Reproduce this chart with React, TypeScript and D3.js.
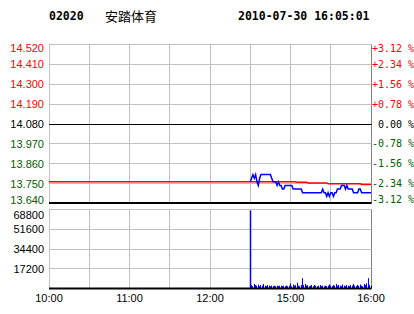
import React from 'react';
import * as d3 from 'd3';

const stockCode = '02020';
const stockName = '安踏体育';
const timeStamp = '2010-07-30 16:05:01';

const priceTicks = [14.52, 14.41, 14.3, 14.19, 14.08, 13.97, 13.86, 13.75, 13.64];
const pctLabels = ['+3.12 %', '+2.34 %', '+1.56 %', '+0.78 %', ' 0.00 %', '-0.78 %', '-1.56 %', '-2.34 %', '-3.12 %'];
const prevClose = 14.08;
const volTicks = [68800, 51600, 34400, 17200];
const gridMinutes = [0, 30, 60, 90, 120, 150, 180, 210, 240];
const labelMinutes = [0, 60, 120, 180, 240];
const labelTexts = ['10:00', '11:00', '12:00', '15:00', '16:00'];
const afternoonStart = 150;

const prices = [
  13.76, 13.78, 13.8, 13.78, 13.8, 13.76, 13.74, 13.78, 13.8, 13.8,
  13.8, 13.8, 13.8, 13.8, 13.8, 13.8, 13.78, 13.76, 13.76, 13.76,
  13.74, 13.76, 13.74, 13.74, 13.72, 13.72, 13.74, 13.74, 13.74, 13.74,
  13.74, 13.74, 13.72, 13.72, 13.72, 13.72, 13.72, 13.72, 13.72, 13.7,
  13.7, 13.7, 13.7, 13.7, 13.7, 13.7, 13.7, 13.7, 13.7, 13.7,
  13.7, 13.7, 13.7, 13.7, 13.72, 13.7, 13.7, 13.68, 13.7, 13.68,
  13.7, 13.7, 13.68, 13.7, 13.7, 13.72, 13.72, 13.72, 13.74, 13.74,
  13.74, 13.72, 13.74, 13.72, 13.72, 13.72, 13.72, 13.7, 13.7, 13.7,
  13.7, 13.72, 13.72, 13.7, 13.7, 13.7, 13.7, 13.7, 13.7, 13.7,
  13.7,
];

const avgPrices = [
  13.76, 13.76, 13.76, 13.76, 13.76, 13.76, 13.76, 13.76, 13.76, 13.76,
  13.76, 13.76, 13.76, 13.76, 13.76, 13.76, 13.76, 13.76, 13.76, 13.76,
  13.76, 13.76, 13.76, 13.76, 13.76, 13.76, 13.76, 13.76, 13.76, 13.76,
  13.76, 13.76, 13.76, 13.76, 13.76, 13.757, 13.757, 13.757, 13.757, 13.757,
  13.757, 13.757, 13.757, 13.754, 13.754, 13.754, 13.754, 13.754, 13.754, 13.754,
  13.754, 13.754, 13.754, 13.754, 13.754, 13.754, 13.754, 13.754, 13.749, 13.749,
  13.749, 13.749, 13.749, 13.749, 13.749, 13.749, 13.749, 13.749, 13.749, 13.749,
  13.749, 13.749, 13.749, 13.749, 13.749, 13.749, 13.749, 13.749, 13.749, 13.749,
  13.749, 13.749, 13.749, 13.745, 13.745, 13.745, 13.745, 13.745, 13.745, 13.745,
  13.745,
];

const volumes = [
  68000, 3000, 2000, 4000, 3000, 2500, 3500, 2000, 3000, 2500,
  4000, 2500, 2000, 3000, 2500, 2000, 2500, 2000, 2500, 2000,
  2500, 2000, 2500, 2500, 2000, 2500, 2000, 2500, 2000, 2500,
  4500, 2000, 3500, 2500, 3000, 5000, 2500, 2000, 3000, 9000,
  3000, 4000, 2500, 3000, 2000, 2500, 3000, 2000, 3000, 2500,
  2000, 2500, 3000, 2000, 2500, 2000, 2500, 2000, 2500, 3500,
  2500, 2000, 3000, 2500, 4000, 2500, 3000, 2500, 2000, 3500,
  2500, 2000, 3000, 2500, 2000, 3000, 2500, 4000, 2500, 2000,
  3000, 2500, 3500, 2500, 2000, 4000, 3000, 4500, 9000, 3000,
  2500,
];

const W = 414;
const H = 314;
const left = 49;
const right = 371;
const pTop = 44.5;
const pBottom = 203.5;
const vTop = 209.5;
const vBottom = 288.5;

const gridColor = '#c0c0c0';
const upColor = '#ff0000';
const downColor = '#006000';
const sansFont = '"Liberation Sans", Arial, sans-serif';
const monoFont = '"DejaVu Sans Mono", "Liberation Mono", monospace';

const crisp = (v: number) => Math.round(v - 0.5) + 0.5;

export default function App() {
  const x = d3.scaleLinear().domain([0, 240]).range([left, right]);
  const y = d3.scaleLinear().domain([13.64, 14.52]).range([pBottom, pTop]);
  const yv = d3.scaleLinear().domain([0, 68800]).range([vBottom, vTop]);

  const priceLine = d3
    .line<number>()
    .x((_, i) => x(afternoonStart + i))
    .y((d) => y(d));

  const avgPoints: [number, number][] = [
    [0, avgPrices[0]],
    ...avgPrices.map((d, i) => [afternoonStart + i, d] as [number, number]),
  ];
  const avgLine = d3
    .line<[number, number]>()
    .x((d) => x(d[0]))
    .y((d) => y(d[1]));

  const colorFor = (v: number) =>
    Math.abs(v - prevClose) < 1e-6 ? '#000000' : v > prevClose ? upColor : downColor;

  const clampY = (v: number, lo: number, hi: number) => Math.max(lo, Math.min(hi, v));

  return (
    <svg
      width={W}
      height={H}
      style={{ position: 'absolute', left: 0, top: 0, background: '#fff' }}
    >
      <rect x={0} y={0} width={W} height={H} fill="#fff" />
      {/* header */}
      <text x={49} y={20} fontFamily={monoFont} fontWeight="bold" fontSize={11.5} fill="#000">
        {stockCode}
      </text>
      <text x={105} y={20.5} fontFamily='"Noto Sans CJK SC", sans-serif' fontSize={13} fill="#000">
        {stockName}
      </text>
      <text x={238} y={20} fontFamily={monoFont} fontWeight="bold" fontSize={11.5} fill="#000">
        {timeStamp}
      </text>

      {/* price panel grid */}
      {gridMinutes.map((m) => (
        <line
          key={'pv' + m}
          x1={crisp(x(m))}
          x2={crisp(x(m))}
          y1={pTop}
          y2={pBottom}
          stroke={m === 240 ? '#808080' : gridColor}
          strokeWidth={1}
        />
      ))}
      {priceTicks.map((v, i) => {
        const yy = crisp(y(v));
        const isZero = Math.abs(v - prevClose) < 1e-6;
        const isBottom = i === priceTicks.length - 1;
        return (
          <line
            key={'ph' + v}
            x1={left}
            x2={right + 0.5}
            y1={isBottom ? yy - 0.5 : yy}
            y2={isBottom ? yy - 0.5 : yy}
            stroke={isZero || isBottom ? '#000' : gridColor}
            strokeWidth={isBottom ? 2 : 1}
          />
        );
      })}
      {priceTicks.map((v, i) => {
        const yy = clampY(y(v), pTop + 3.5, pBottom - 4);
        return (
          <g key={'pl' + v}>
            <text
              x={44}
              y={yy}
              textAnchor="end"
              dominantBaseline="central"
              fontFamily={sansFont}
              fontSize={11}
              fill={colorFor(v)}
            >
              {v.toFixed(3)}
            </text>
            <text
              x={372}
              y={yy}
              dominantBaseline="central"
              fontFamily={monoFont}
              fontSize={10}
              fill={colorFor(v)}
              style={{ whiteSpace: 'pre' }}
            >
              {pctLabels[i]}
            </text>
          </g>
        );
      })}

      {/* average and price lines */}
      <path d={avgLine(avgPoints) || ''} fill="none" stroke={upColor} strokeWidth={1.5} />
      <path d={priceLine(prices) || ''} fill="none" stroke="#0000ff" strokeWidth={1.5} />

      {/* volume panel grid */}
      {gridMinutes.map((m) => (
        <line
          key={'vv' + m}
          x1={crisp(x(m))}
          x2={crisp(x(m))}
          y1={vTop}
          y2={vBottom}
          stroke={m === 240 ? '#808080' : gridColor}
          strokeWidth={1}
        />
      ))}
      {volTicks.map((v) => (
        <line
          key={'vh' + v}
          x1={left}
          x2={right + 0.5}
          y1={crisp(yv(v))}
          y2={crisp(yv(v))}
          stroke={gridColor}
          strokeWidth={1}
        />
      ))}
      {volTicks.map((v) => (
        <text
          key={'vl' + v}
          x={44}
          y={clampY(yv(v), vTop + 5, vBottom)}
          textAnchor="end"
          dominantBaseline="central"
          fontFamily={sansFont}
          fontSize={11}
          fill="#000"
        >
          {v}
        </text>
      ))}
      {volumes.map((v, i) => (
        <line
          key={'vb' + i}
          x1={crisp(x(afternoonStart + i))}
          x2={crisp(x(afternoonStart + i))}
          y1={yv(0)}
          y2={yv(v)}
          stroke="#0000ff"
          strokeWidth={i === 0 ? 1.5 : 1}
        />
      ))}
      <line x1={left} x2={right + 0.5} y1={vBottom} y2={vBottom} stroke="#000" strokeWidth={2} />

      {/* time labels */}
      {labelMinutes.map((m, i) => (
        <text
          key={'tl' + m}
          x={x(m)}
          y={302}
          textAnchor="middle"
          fontFamily={sansFont}
          fontSize={11}
          fill="#000"
        >
          {labelTexts[i]}
        </text>
      ))}
    </svg>
  );
}
